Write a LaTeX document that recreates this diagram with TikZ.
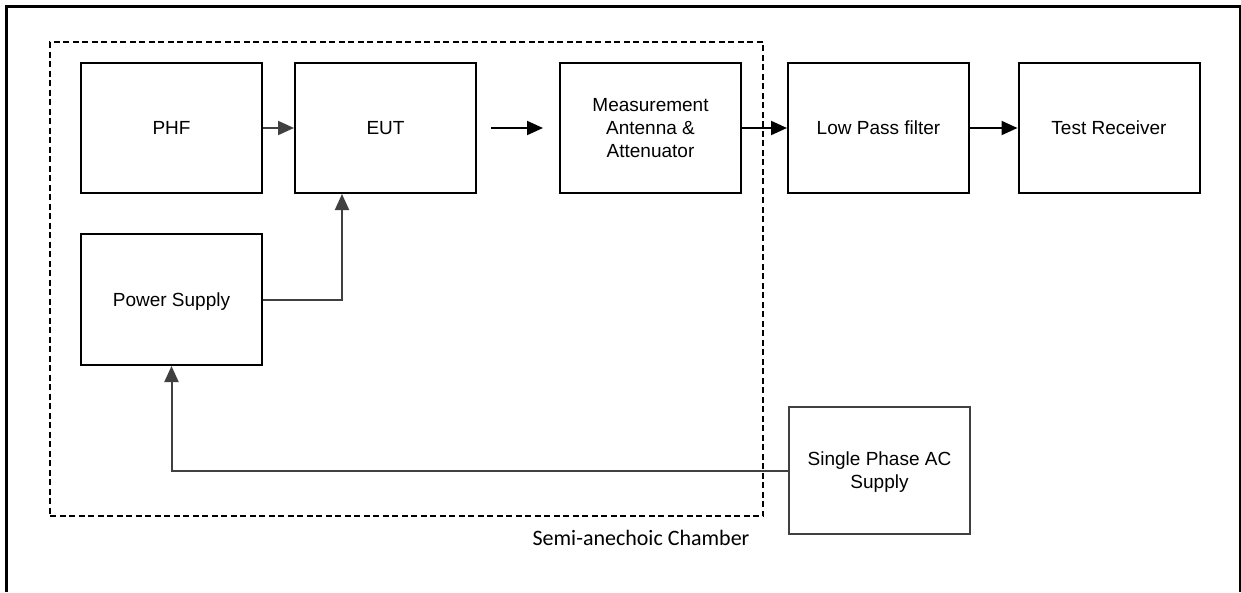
\documentclass[tikz,border=0pt]{standalone}
\usepackage{fontspec}
\setmainfont{Liberation Sans}
\newfontfamily\calib{Carlito}
\usetikzlibrary{arrows.meta}
\definecolor{lgray}{HTML}{404040}
\tikzset{
  blk/.style={draw=black, line width=2pt, minimum width=181pt, minimum height=130pt,
    inner sep=0pt, align=center, text depth=0pt, font=\fontsize{19}{23}\selectfont},
  grayarr/.style={draw=lgray, line width=2pt, -{Triangle[length=16pt,width=14pt]}},
  blkarr/.style={draw=black, line width=2pt, -{Triangle[length=16pt,width=14pt]}},
  grayline/.style={draw=lgray, line width=2pt}
}
\begin{document}
\begin{tikzpicture}[x=1pt,y=-1pt]
\useasboundingbox (0,0) rectangle (1241,592);
% outer frame
\draw[line width=3.3pt] (6.7,592) -- (6.7,6.7) -- (1241,6.7);
\draw[line width=1.5pt] (1240,6.7) -- (1240,592);
% chamber
\node[draw=black, line width=2.2pt, dash pattern=on 6pt off 3.5pt, minimum width=713pt, minimum height=474pt, inner sep=0pt] (chamber) at (406.5,279) {};
\node[font=\calib\fontsize{22}{25}\selectfont, anchor=base, inner sep=0pt] (chlabel) at (641,545) {Semi-anechoic Chamber};
% boxes
\node[blk] (PHF) at (171.5,128) {PHF};
\node[blk] (EUT) at (385.5,128) {EUT};
\node[blk] (MEAS) at (650.5,128) {Measurement\\Antenna \&\\Attenuator};
\node[blk] (LPF) at (878.5,128) {Low Pass filter};
\node[blk] (TR) at (1109,128) {Test Receiver};
\node[blk, minimum height=131pt] (PS) at (171.5,299.5) {Power Supply};
\node[blk, draw=lgray, minimum height=127pt] (SPAC) at (879.5,470.5) {Single Phase AC\\Supply};
% connectors
\draw[grayarr] (PHF.east) -- (EUT.west);
\draw[blkarr, shorten <=14pt, shorten >=16pt] (EUT.east) -- (MEAS.west);
\draw[blkarr] (MEAS.east) -- (LPF.west);
\draw[blkarr] (LPF.east) -- (TR.west);
\coordinate (EUTin) at ([xshift=-43.5pt]EUT.south);
\draw[grayarr] (PS.east) -| (EUTin);
\draw[grayarr] (SPAC.west) -| (PS.south);
\end{tikzpicture}
\end{document}
